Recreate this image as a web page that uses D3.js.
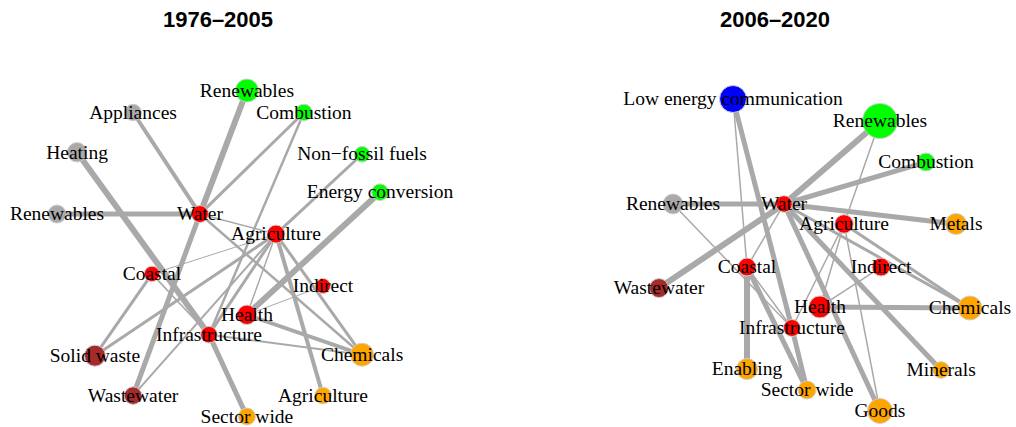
<!DOCTYPE html>
<html><head><meta charset="utf-8">
<script src="https://cdn.jsdelivr.net/npm/d3@7"></script>
<style>body{margin:0;background:#fff}svg{display:block}</style>
</head><body>
<svg id="chart" width="1016" height="427"></svg>
<script>
// ---------- DATA ----------
const panelTitles = ["1976\u20132005", "2006\u20132020"];

// node: [id, label, group, size, layoutX, layoutY]  (layout in [-1,1], y up)
const nodesLeft = [
  ["app", "Appliances", "buildings", 8.3, -0.529, 0.865],
  ["heat", "Heating", "buildings", 9.7, -0.876, 0.621],
  ["renB", "Renewables", "buildings", 9, -1.0, 0.242],
  ["water", "Water", "adapt", 8.5, -0.115, 0.242],
  ["renE", "Renewables", "energy", 11.5, 0.176, 1.0],
  ["comb", "Combustion", "energy", 8.3, 0.529, 0.865],
  ["nff", "Non\u2212fossil fuels", "energy", 7.8, 0.889, 0.609],
  ["econv", "Energy conversion", "energy", 8.3, 1.0, 0.376],
  ["agri", "Agriculture", "adapt", 9, 0.356, 0.119],
  ["coast", "Coastal", "adapt", 7.7, -0.412, -0.125],
  ["indir", "Indirect", "adapt", 7.5, 0.647, -0.199],
  ["health", "Health", "adapt", 9.7, 0.176, -0.376],
  ["infra", "Infrastructure", "adapt", 8.3, -0.059, -0.498],
  ["solid", "Solid waste", "waste", 10.5, -0.765, -0.627],
  ["wastew", "Wastewater", "waste", 8.8, -0.529, -0.872],
  ["chem", "Chemicals", "industry", 11.5, 0.889, -0.621],
  ["agriI", "Agriculture", "industry", 8.3, 0.647, -0.872],
  ["sector", "Sector wide", "industry", 8.5, 0.176, -1.0]
];
// edge: [source, target, weight]
const edgesLeft = [
  ["app", "water", 4], ["heat", "infra", 6], ["infra", "sector", 5],
  ["renB", "water", 5], ["renE", "water", 6], ["water", "wastew", 5],
  ["comb", "water", 3], ["comb", "infra", 2.5], ["nff", "agri", 3],
  ["econv", "health", 6], ["water", "agri", 1.5], ["water", "chem", 2.5],
  ["agri", "chem", 3], ["agri", "agriI", 4], ["agri", "health", 1.5],
  ["agri", "infra", 3], ["agri", "solid", 3], ["agri", "wastew", 2],
  ["coast", "agri", 1], ["coast", "solid", 3], ["coast", "infra", 1.5],
  ["health", "chem", 4], ["health", "indir", 1], ["infra", "chem", 2]
];

const nodesRight = [
  ["lec", "Low energy communication", "ict", 13.5, -0.524, 1.0],
  ["renE", "Renewables", "energy", 17.5, 0.421, 0.859],
  ["comb", "Combustion", "energy", 9, 0.717, 0.596],
  ["renB", "Renewables", "buildings", 10, -0.910, 0.327],
  ["water", "Water", "adapt", 8.3, -0.196, 0.327],
  ["agri", "Agriculture", "adapt", 9.3, 0.190, 0.199],
  ["metals", "Metals", "industry", 10.5, 0.910, 0.199],
  ["coast", "Coastal", "adapt", 9, -0.434, -0.077],
  ["indir", "Indirect", "adapt", 9, 0.428, -0.077],
  ["wastew", "Wastewater", "waste", 9.5, -1.0, -0.212],
  ["health", "Health", "adapt", 11, 0.035, -0.333],
  ["infra", "Infrastructure", "adapt", 8.5, -0.145, -0.468],
  ["chem", "Chemicals", "industry", 12, 1.0, -0.340],
  ["enab", "Enabling", "industry", 10.5, -0.434, -0.731],
  ["miner", "Minerals", "industry", 8.3, 0.814, -0.737],
  ["sector", "Sector wide", "industry", 9, -0.048, -0.865],
  ["goods", "Goods", "industry", 12.5, 0.421, -1.0]
];
const edgesRight = [
  ["lec", "coast", 1.5], ["lec", "infra", 5], ["infra", "sector", 5],
  ["renB", "water", 5], ["renE", "water", 6], ["comb", "water", 5],
  ["water", "metals", 5], ["water", "wastew", 6], ["water", "goods", 5],
  ["water", "miner", 5], ["water", "chem", 3], ["water", "coast", 1.5],
  ["agri", "chem", 3], ["agri", "renE", 1.5], ["agri", "goods", 1.5],
  ["agri", "infra", 1.5], ["agri", "health", 1.5], ["health", "chem", 5],
  ["health", "indir", 1.5], ["coast", "enab", 6], ["coast", "sector", 5],
  ["coast", "infra", 1.5], ["renB", "infra", 1.5]
];

const groups = ["adapt", "energy", "buildings", "industry", "waste", "ict"];
const groupColors = ["#ff0000", "#00ff00", "#a9a9a9", "#ffa500", "#a52a2a", "#0000ff"];

// ---------- DRAW ----------
const svg = d3.select("#chart");
const color = d3.scaleOrdinal().domain(groups).range(groupColors);
const widthScale = d3.scaleLinear().domain([0, 6]).range([0, 6]);

const panels = [
  {title: panelTitles[0], titleX: 218, nodes: nodesLeft, edges: edgesLeft, cx: 218.5, hw: 161.5, cy: 253.5, hh: 163},
  {title: panelTitles[1], titleX: 775, nodes: nodesRight, edges: edgesRight, cx: 814.5, hw: 155.5, cy: 255, hh: 156}
];

panels.forEach(p => {
  const g = svg.append("g");
  const x = d3.scaleLinear().domain([-1, 1]).range([p.cx - p.hw, p.cx + p.hw]);
  const y = d3.scaleLinear().domain([-1, 1]).range([p.cy + p.hh, p.cy - p.hh]);
  const nodes = p.nodes.map(d => ({id: d[0], label: d[1], group: d[2], size: d[3], lx: d[4], ly: d[5]}));
  const byId = new Map(nodes.map(n => [n.id, n]));
  const edges = p.edges.map(e => ({s: byId.get(e[0]), t: byId.get(e[1]), w: e[2]}));

  g.append("text")
    .attr("x", p.titleX).attr("y", 27)
    .attr("text-anchor", "middle")
    .attr("font-family", "'Liberation Sans', Arial, sans-serif")
    .attr("font-weight", "bold").attr("font-size", 22)
    .text(p.title);

  g.selectAll("line.edge").data(edges).join("line")
    .attr("class", "edge")
    .attr("x1", d => x(d.s.lx)).attr("y1", d => y(d.s.ly))
    .attr("x2", d => x(d.t.lx)).attr("y2", d => y(d.t.ly))
    .attr("stroke", "#a9a9a9")
    .attr("stroke-width", d => widthScale(d.w));

  g.selectAll("circle.node").data(nodes).join("circle")
    .attr("class", "node")
    .attr("cx", d => x(d.lx)).attr("cy", d => y(d.ly))
    .attr("r", d => d.size)
    .attr("fill", d => color(d.group))
    .attr("stroke", "#cfcfcf").attr("stroke-width", 1);

  g.selectAll("text.label").data(nodes).join("text")
    .attr("class", "label")
    .attr("x", d => x(d.lx)).attr("y", d => y(d.ly))
    .attr("dy", "0.32em")
    .attr("text-anchor", "middle")
    .attr("font-family", "'Liberation Serif', 'Times New Roman', serif")
    .attr("font-size", 19.5)
    .attr("fill", "#000")
    .text(d => d.label);
});
</script>
</body></html>
